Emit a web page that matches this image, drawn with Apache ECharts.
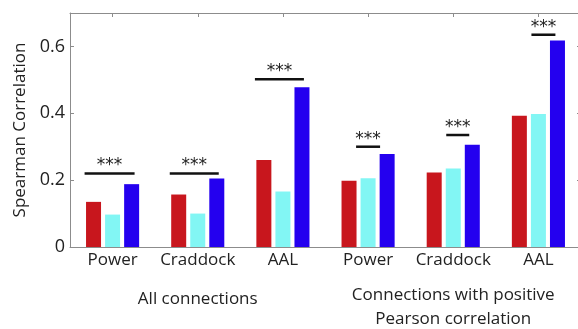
<!DOCTYPE html>
<html>
<head>
<meta charset="utf-8">
<script src="https://cdn.jsdelivr.net/npm/echarts@6/dist/echarts.min.js"></script>
<style>
  html, body { margin: 0; padding: 0; background: #fff; }
  #chart { width: 578px; height: 329px; }
</style>
</head>
<body>
<div id="chart"></div>
<script>
// Parcellation schemes, repeated for the two connection sets
var categories = ['Power', 'Craddock', 'AAL', 'Power', 'Craddock', 'AAL'];
var groupLabels = ['All connections', 'Connections with positive\nPearson correlation'];

// Spearman correlation for the three measures (red, cyan, blue bars)
var redValues  = [0.135, 0.157, 0.260, 0.198, 0.223, 0.393];
var cyanValues = [0.097, 0.100, 0.166, 0.206, 0.235, 0.398];
var blueValues = [0.188, 0.205, 0.478, 0.278, 0.306, 0.618];

// Significance brackets: height of each bracket and its marker
var bracketLevels = [0.220, 0.220, 0.502, 0.300, 0.335, 0.635];
var bracketMarks  = ['***', '***', '***', '***', '***', '***'];

var yTicks = [0, 0.2, 0.4, 0.6];

// Horizontal extent of each bracket in pixels, relative to the group centre
var bracketSpans = [[-28, 22], [-28, 21], [-28, 21], [-12, 12], [-7, 16], [-7, 17]];

var axisGray = '#8c8c8c';
var textColor = '#222';
var font = '"Open Sans", sans-serif';

var bracketData = bracketLevels.map(function (v, i) { return [i, v]; });

var chart = echarts.init(document.getElementById('chart'));
chart.setOption({
  animation: false,
  backgroundColor: '#fff',
  grid: { left: 70, top: 13, right: -3, bottom: 82, outerBoundsMode: 'none', containLabel: false },
  xAxis: [
    {
      type: 'category',
      data: categories,
      position: 'bottom',
      axisLine: { onZero: false, lineStyle: { color: axisGray, width: 1 } },
      axisTick: { show: false },
      axisLabel: { interval: 0, margin: 5, fontSize: 17, color: textColor, fontFamily: font }
    },
    {
      type: 'category',
      data: categories,
      position: 'top',
      axisLine: { show: true, onZero: false, lineStyle: { color: axisGray, width: 1 } },
      axisTick: { show: true, inside: true, alignWithLabel: true, length: 4, lineStyle: { color: axisGray } },
      axisLabel: { show: false }
    },
    {
      type: 'category',
      data: groupLabels,
      position: 'bottom',
      axisLine: { show: false, onZero: false },
      axisTick: { show: false },
      axisLabel: {
        interval: 0,
        margin: 36,
        fontSize: 17,
        lineHeight: 24,
        color: textColor,
        fontFamily: font,
        formatter: function (v, i) {
          return i === 0 ? '{a|' + v + '}' : v;
        },
        rich: {
          a: { fontSize: 17, lineHeight: 24, padding: [9, 0, 0, 0], color: textColor, fontFamily: font }
        }
      }
    }
  ],
  yAxis: [
    {
      type: 'value',
      position: 'left',
      min: 0,
      max: 0.7,
      interval: 0.2,
      name: 'Spearman Correlation',
      nameLocation: 'middle',
      nameGap: 40,
      nameTextStyle: { fontSize: 17, color: textColor, fontFamily: font },
      splitLine: { show: false },
      axisLine: { show: true, onZero: false, lineStyle: { color: axisGray, width: 1 } },
      axisTick: { show: true, inside: true, length: 4, lineStyle: { color: axisGray } },
      axisLabel: {
        margin: 5,
        fontSize: 18,
        color: textColor,
        fontFamily: font,
        showMaxLabel: false,
        formatter: function (v) {
          for (var k = 0; k < yTicks.length; k++) {
            if (Math.abs(v - yTicks[k]) < 1e-6) return v === 0 ? '0' : yTicks[k].toFixed(1);
          }
          return '';
        }
      }
    },
    {
      type: 'value',
      position: 'right',
      min: 0,
      max: 0.7,
      interval: 0.2,
      splitLine: { show: false },
      axisLine: { show: true, onZero: false, lineStyle: { color: axisGray, width: 1 } },
      axisTick: { show: true, inside: true, length: 4, lineStyle: { color: axisGray } },
      axisLabel: { show: false }
    }
  ],
  series: [
    {
      type: 'bar', data: redValues, barWidth: 15, barGap: '27%',
      itemStyle: { color: '#c8161d' }
    },
    {
      type: 'bar', data: cyanValues, barWidth: 15, barGap: '27%',
      itemStyle: { color: '#82f6f4' }
    },
    {
      type: 'bar', data: blueValues, barWidth: 15, barGap: '27%',
      itemStyle: { color: '#2400ef' }
    },
    {
      type: 'custom',
      data: bracketData,
      z: 5,
      renderItem: function (params, api) {
        var idx = api.value(0);
        var p = api.coord([idx, api.value(1)]);
        var span = bracketSpans[idx];
        var x0 = p[0] + span[0], x1 = p[0] + span[1];
        return {
          type: 'group',
          children: [
            {
              type: 'line',
              shape: { x1: x0, y1: p[1], x2: x1, y2: p[1] },
              style: { stroke: '#111', lineWidth: 2.5 }
            },
            {
              type: 'text',
              style: {
                x: (x0 + x1) / 2,
                y: p[1] + 1,
                text: bracketMarks[idx],
                fill: '#222',
                font: '17px "DejaVu Sans", sans-serif',
                align: 'center',
                verticalAlign: 'bottom'
              }
            }
          ]
        };
      }
    }
  ]
});
</script>
</body>
</html>
